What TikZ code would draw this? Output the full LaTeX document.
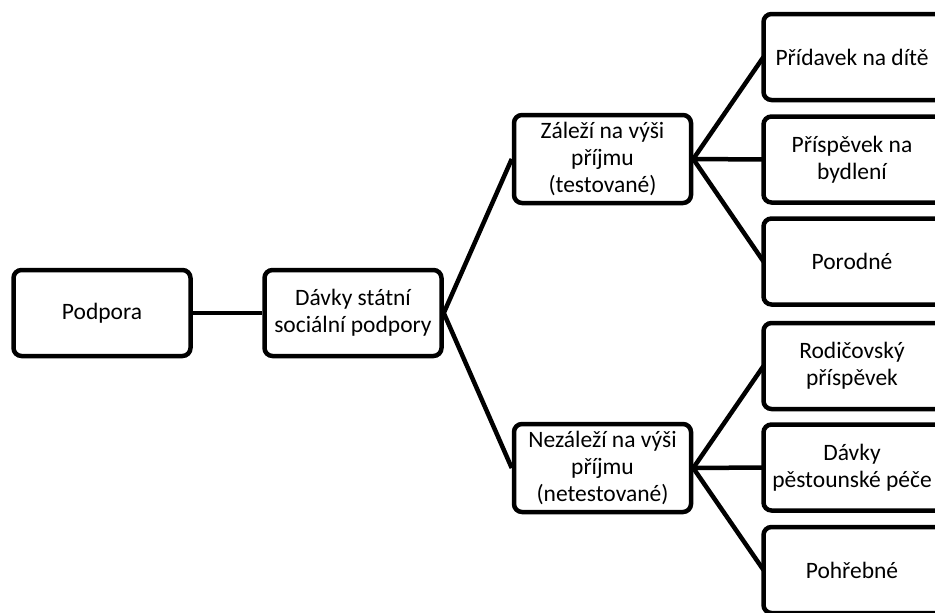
\documentclass[tikz,border=0pt]{standalone}
\usepackage{fontspec}
\setmainfont{Carlito}
\begin{document}
\begin{tikzpicture}[
					x=1pt, y=-1pt,
					box/.style={draw, line width=4.5pt, rounded corners=8pt, fill=white,
						minimum width=177pt, minimum height=86pt, align=center,
						font=\fontsize{23.5}{26.7}\selectfont},
					leaf/.style={box, draw=none, fill=none, outer sep=0pt},
					frame/.style={line width=4.5pt, rounded corners=8pt},
					link/.style={line width=4.5pt}
					]

					\useasboundingbox (0,0) rectangle (935,613);

					\node[box] (podpora) at (102,313) {Podpora};
					\node[box] (davky) at (353,313) {Dávky státní\\sociální podpory};

					\node[box, minimum height=88pt] (zalezi) at (602.5,159) {Záleží na výši\\příjmu\\(testované)};
					\node[box, minimum height=88pt] (nezalezi) at (602.5,468) {Nezáleží na výši\\příjmu\\(netestované)};

					\node[leaf] (pridavek) at (852,57) {Přídavek na dítě};
					\node[leaf] (bydleni) at (852,159.5) {Příspěvek na\\bydlení};
					\node[leaf] (porodne) at (852,261.5) {Porodné};
					\node[leaf] (rodicovsky) at (852,366) {Rodičovský\\příspěvek};
					\node[leaf] (pestoun) at (852,467.5) {Dávky\\pěstounské péče};
					\node[leaf] (pohrebne) at (852,570) {Pohřebné};

					\foreach \n in {pridavek,bydleni,porodne,rodicovsky,pestoun,pohrebne}
						\draw[frame] (\n.north west) rectangle ([xshift=30pt]\n.south east);

					\draw[link] (podpora) -- (davky);
					\draw[link] (davky.east) -- (zalezi.west);
					\draw[link] (davky.east) -- (nezalezi.west);

					\draw[link] (zalezi.east) -- (pridavek.west);
					\draw[link] (zalezi.east) -- (bydleni.west);
					\draw[link] (zalezi.east) -- (porodne.west);

					\draw[link] (nezalezi.east) -- (rodicovsky.west);
					\draw[link] (nezalezi.east) -- (pestoun.west);
					\draw[link] (nezalezi.east) -- (pohrebne.west);

				\end{tikzpicture}
\end{document}
